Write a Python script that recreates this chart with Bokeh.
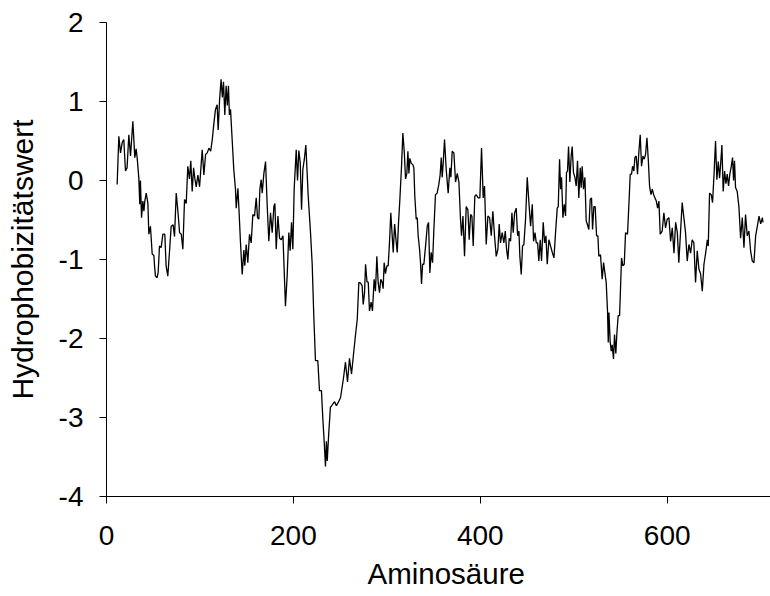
from bokeh.plotting import figure
from bokeh.models import Range1d, FixedTicker, CustomJSTickFormatter, Title
from bokeh.embed import file_html
from bokeh.resources import INLINE

# Amino-acid position and hydrophobicity value
position = [
    11.4, 13.2, 15.0, 16.8, 18.5, 20.3, 22.0, 23.9, 25.7, 28.2, 30.3, 31.7, 32.8, 34.6, 35.6, 36.3,
    37.5, 38.9, 40.0, 41.0, 42.5, 44.3, 45.3, 47.0, 48.9, 50.7, 51.4, 52.4, 54.2, 55.3, 56.7, 58.5,
    60.3, 62.4, 63.8, 65.6, 67.3, 69.2, 71.3, 72.8, 74.6, 76.4, 78.2, 80.0, 81.7, 83.5, 85.3, 87.0,
    88.8, 90.2, 91.7, 93.2, 94.6, 96.0, 97.8, 99.6, 102.4, 104.2, 106.0, 107.8, 109.6, 111.5, 113.2,
    114.8, 116.6, 118.4, 119.5, 121.0, 122.6, 124.0, 125.2, 126.6, 128.0, 129.3, 130.5, 131.5, 132.7,
    134.5, 136.2, 138.0, 138.8, 140.6, 141.6, 143.4, 145.2, 147.0, 148.0, 149.5, 151.2, 153.0, 154.8,
    156.6, 158.4, 160.2, 161.6, 163.0, 164.1, 165.5, 166.6, 168.4, 170.2, 172.0, 173.7, 175.5, 177.3,
    179.1, 180.2, 181.6, 183.4, 185.2, 187.0, 188.8, 191.5, 193.3, 195.1, 196.5, 198.0, 199.4, 200.8,
    203.0, 204.4, 205.8, 207.3, 208.7, 210.1, 211.6, 213.3, 215.8, 218.3, 220.1, 221.8, 223.6, 226.1,
    227.9, 230.0, 231.5, 233.0, 234.3, 235.3, 236.2, 237.8, 239.6, 241.0, 244.0, 246.0, 248.3, 250.4,
    253.6, 255.7, 257.9, 260.0, 262.2, 264.3, 266.5, 268.3, 270.0, 271.8, 273.5, 274.7, 276.1, 277.2,
    278.7, 280.1, 281.4, 283.2, 284.6, 286.4, 287.8, 289.3, 290.7, 292.1, 293.5, 295.0, 296.0, 297.1,
    298.5, 300.0, 301.4, 302.8, 304.2, 305.7, 306.8, 308.3, 309.7, 311.1, 312.5, 313.9, 315.7, 317.1,
    318.6, 320.0, 321.4, 322.5, 323.6, 324.6, 326.0, 327.8, 328.9, 329.9, 331.4, 332.5, 333.5, 335.0,
    336.0, 337.1, 338.2, 339.6, 341.4, 343.2, 344.6, 346.0, 347.4, 348.9, 350.3, 352.0, 353.8, 355.6,
    357.0, 358.2, 359.2, 360.3, 361.7, 363.5, 365.6, 367.4, 368.5, 369.9, 371.7, 373.5, 375.3, 377.1,
    378.8, 379.9, 381.4, 383.1, 384.9, 386.7, 388.1, 389.6, 391.0, 392.4, 394.1, 395.6, 397.7, 399.5,
    401.3, 403.1, 404.5, 406.3, 408.1, 409.9, 411.7, 413.4, 415.2, 417.0, 418.8, 420.2, 421.6, 423.4,
    425.2, 426.7, 428.1, 429.5, 430.9, 432.4, 433.8, 435.2, 436.7, 438.4, 439.9, 441.3, 442.3, 443.8,
    445.2, 446.6, 448.4, 450.2, 452.0, 453.8, 455.6, 457.0, 458.5, 459.9, 461.3, 462.6, 464.1, 465.5,
    467.3, 468.8, 470.2, 471.6, 473.4, 475.2, 477.0, 478.8, 480.5, 482.3, 483.4, 484.8, 485.9, 486.9,
    488.4, 489.8, 491.2, 492.2, 493.3, 494.4, 495.8, 497.2, 498.3, 499.7, 501.2, 502.6, 504.0, 505.4,
    506.9, 507.9, 509.0, 510.4, 511.9, 513.3, 514.7, 516.1, 517.6, 519.0, 520.1, 521.5, 522.9, 524.4,
    525.8, 526.8, 528.6, 530.4, 531.9, 533.3, 534.7, 536.1, 536.9, 537.6, 539.0, 540.1, 541.1, 542.5,
    543.6, 545.0, 546.1, 547.5, 549.0, 550.0, 551.1, 552.5, 554.0, 555.4, 557.5, 559.0, 560.4, 561.8,
    562.9, 564.3, 565.4, 566.8, 568.2, 569.7, 571.1, 572.5, 574.0, 575.4, 576.8, 578.3, 579.7, 581.1,
    582.6, 584.0, 585.5, 586.9, 588.3, 589.7, 591.1, 592.5, 594.6, 596.4, 598.2, 600.0, 601.8, 603.6,
    605.4, 607.2, 609.0, 610.8, 612.4, 614.2, 616.0, 617.8, 619.6, 621.4, 623.2, 625.0, 626.7, 628.5,
    630.3, 632.1, 633.9, 635.7, 637.5, 639.3, 641.1, 642.9, 643.9, 645.3, 647.1, 648.5, 650.0, 651.7,
    653.1, 654.6, 656.0, 657.1, 658.5, 659.9, 661.4, 662.8, 664.2, 665.6, 667.0, 668.5, 669.9, 671.0,
    672.0, 673.1, 674.9, 676.7, 678.5, 680.3, 682.1, 683.8, 685.6, 687.4, 689.2, 691.0, 692.8, 694.6,
    696.4, 698.2, 700.0, 701.8, 702.5,
]

hydrophobicity = [
    -0.05, 0.56, 0.35, 0.48, 0.52, 0.12, 0.16, 0.58, 0.31, 0.75, 0.29, 0.40, 0.29, 0.03, -0.30, 0.00,
    -0.47, -0.26, -0.39, -0.26, -0.16, -0.29, -0.68, -0.58, -0.93, -0.95, -1.08, -1.21, -1.23, -1.16, -0.83, -0.85,
    -0.68, -0.68, -1.08, -1.21, -0.92, -0.58, -0.56, -0.71, -0.16, -0.39, -0.66, -0.68, -0.87, -0.24, -0.29, 0.18,
    0.02, 0.25, -0.14, 0.16, 0.02, -0.08, 0.07, -0.08, 0.39, 0.07, 0.33, 0.35, 0.41, 0.37, 0.52,
    0.71, 0.90, 0.96, 0.64, 1.02, 1.28, 1.05, 1.25, 0.83, 1.20, 0.95, 1.20, 0.83, 0.90,
    0.51, 0.14, -0.11, -0.35, -0.10, -0.33, -0.79, -1.19, -0.88, -1.08, -0.81, -1.04, -0.68, -0.79,
    -0.43, -0.45, -0.22, -0.47, -0.49, -0.11, 0.01, -0.16, 0.09, 0.24, -0.33, -0.77, -0.41, -0.66,
    -0.33, -0.29, -0.87, -0.45, -0.73, -0.75, -0.70, -1.59, -1.21, -0.66, -0.89, -0.53, -0.87, -0.11,
    0.39, 0.00, 0.38, 0.23, -0.37, 0.14, 0.26, 0.45, -0.19, -0.66, -1.06, -1.71, -2.28, -2.28,
    -2.66, -2.66, -3.02, -3.32, -3.62, -3.30, -3.55, -3.20, -2.87, -2.85, -2.80, -2.85, -2.80, -2.75,
    -2.50, -2.30, -2.55, -2.25, -2.45, -2.20, -1.95, -1.76, -1.29, -1.30, -1.33, -1.57, -1.42, -1.06,
    -1.28, -1.29, -1.65, -1.54, -1.65, -1.25, -1.40, -0.96, -1.29, -1.42, -1.25, -1.29, -1.37, -1.04,
    -1.18, -1.08, -1.08, -0.79, -0.41, -0.70, -0.91, -0.55, -0.74, -0.91, -0.53, -0.24, 0.18, 0.60,
    0.37, 0.02, 0.09, 0.37, 0.09, 0.28, 0.22, 0.20, 0.16, -0.20, -0.49, -0.47, -0.70, -0.87,
    -1.04, -1.31, -1.06, -1.06, -0.83, -0.58, -0.53, -1.17, -0.91, -1.04, -0.62, -0.18, -0.16, -0.05,
    0.07, 0.29, 0.04, 0.22, 0.52, 0.14, -0.16, 0.16, 0.04, 0.37, 0.35, -0.02, 0.09, -0.02,
    -0.49, -0.70, -0.45, -0.96, -0.33, -0.37, -0.75, -0.43, -0.45, -0.83, -0.20, -0.18, -0.22, -0.22,
    0.41, -0.22, -0.07, -0.81, -0.45, -0.47, -0.70, -0.39, -0.70, -0.96, -0.87, -0.55, -0.79, -0.66,
    -0.79, -0.64, -0.87, -1.00, -0.73, -0.77, -0.41, -0.66, -0.41, -0.35, -0.70, -0.64, -0.96, -1.19,
    -0.83, -0.81, -0.49, 0.04, -0.28, -0.58, -0.30, -0.77, -0.66, -0.79, -0.79, -1.02, -0.75, -1.02,
    -0.53, -0.79, -0.70, -1.06, -0.75, -0.83, -0.91, -0.98, -0.66, -0.35, -0.33, 0.27, -0.11, 0.04,
    -0.47, -0.30, -0.45, 0.10, 0.12, 0.43, -0.02, 0.31, 0.43, 0.10, 0.04, -0.07, 0.25, -0.22,
    0.16, -0.09, 0.18, -0.11, 0.04, -0.51, -0.56, -0.62, -0.24, -0.22, -0.62, -0.33, -0.33, -0.70,
    -0.70, -0.96, -0.94, -1.25, -1.04, -1.17, -1.29, -1.65, -2.05, -1.67, -2.05, -2.16, -2.08, -2.26,
    -1.95, -2.19, -1.94, -1.71, -1.71, -1.37, -0.98, -1.08, -1.06, -0.66, -0.68, -0.30, 0.08, 0.08,
    0.18, 0.12, 0.29, 0.31, 0.08, 0.37, 0.58, 0.18, 0.31, 0.27, 0.33, 0.54, 0.27, -0.07,
    -0.18, -0.11, -0.18, -0.22, -0.26, -0.35, -0.26, -0.68, -0.64, -0.41, -0.60, -0.49, -0.47, -0.77,
    -0.60, -0.92, -0.53, -0.66, -1.04, -0.66, -0.28, -0.47, -0.66, -1.02, -0.81, -0.92, -0.75, -0.79,
    -1.29, -0.89, -1.12, -1.18, -1.40, -1.06, -0.92, -0.75, -0.83, -0.16, -0.18, -0.28, 0.06, 0.50,
    0.01, 0.24, 0.03, 0.20, 0.45, -0.14, 0.12, -0.04, 0.08, -0.07, 0.08, 0.18, 0.29, 0.00,
    0.25, -0.09, -0.14, -0.33, -0.73, -0.47, -0.85, -0.43, -0.70, -0.64, -0.89, -1.02, -1.04, -0.70,
    -0.58, -0.45, -0.55, -0.47, -0.53,
]

x_ticks = [0, 200, 400, 600]
y_ticks = [-4, -3, -2, -1, 0, 1, 2]
x_title = "Aminosäure"
y_title = "Hydrophobizitätswert"

FONT = "Liberation Sans"

p = figure(
    width=770, height=596,
    output_backend="svg", toolbar_location=None,
    x_range=Range1d(0, 710.5), y_range=Range1d(-4, 2),
    min_border_left=106, min_border_right=0, min_border_top=22, min_border_bottom=99,
)
p.outline_line_color = None
p.xgrid.visible = False
p.ygrid.visible = False
p.background_fill_color = "white"
p.border_fill_color = "white"

p.line(position, hydrophobicity, line_color="black", line_width=1.3)

fmt = CustomJSTickFormatter(code="return String(tick);")

for ax in (p.xaxis[0], p.yaxis[0]):
    ax.axis_line_color = "black"
    ax.axis_line_width = 1
    ax.major_tick_line_color = "black"
    ax.major_tick_out = 7
    ax.major_tick_in = 0
    ax.minor_tick_line_color = None
    ax.major_label_text_font = FONT
    ax.major_label_text_font_size = "28px"
    ax.major_label_text_color = "black"
    ax.formatter = fmt
    ax.axis_label_text_font = FONT
    ax.axis_label_text_font_style = "normal"
    ax.axis_label_text_color = "black"

p.xaxis[0].ticker = FixedTicker(ticks=x_ticks)
p.yaxis[0].ticker = FixedTicker(ticks=y_ticks)
p.xaxis[0].major_label_standoff = 22
p.yaxis[0].major_label_standoff = 16

p.yaxis[0].axis_label = y_title
p.yaxis[0].axis_label_text_font_size = "30px"
p.yaxis[0].axis_label_standoff = 17

p.add_layout(Title(
    text=x_title, align="left", offset=261, standoff=14,
    vertical_align="bottom", text_baseline="alphabetic",
    text_font=FONT, text_font_size="29.5px", text_font_style="normal",
    text_color="black",
), "below")

open("out.html", "w").write(file_html(p, INLINE))
